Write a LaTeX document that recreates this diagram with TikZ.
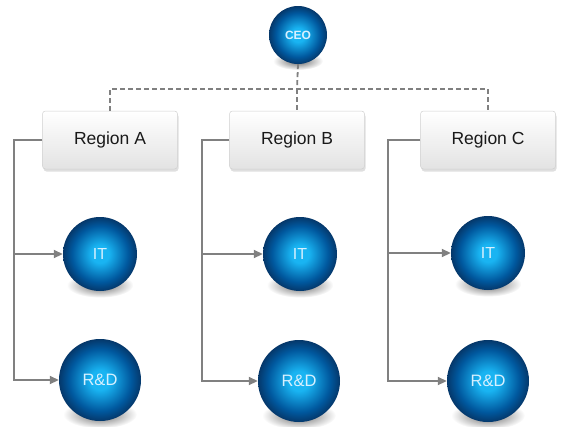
\documentclass[tikz,border=0pt]{standalone}
\usepackage{fontspec}
\setmainfont{Liberation Sans}
\usetikzlibrary{arrows.meta,shadows}

\definecolor{orbcore}{RGB}{25,180,242}
\definecolor{orbmid}{RGB}{0,88,158}
\definecolor{orbedge}{RGB}{8,34,72}
\definecolor{orbtext}{RGB}{215,240,255}
\definecolor{linegray}{RGB}{128,128,128}
\definecolor{boxtext}{RGB}{25,25,25}

% glossy blue sphere (the circle rim sits near 35bp)
\pgfdeclareradialshading{orb}{\pgfpoint{0bp}{0bp}}{%
  color(0bp)=(orbcore);
  color(6bp)=(orbcore);
  color(19bp)=(orbmid);
  color(29bp)=(orbedge);
  color(50bp)=(orbedge)}

\begin{document}
\begin{tikzpicture}[x=1pt,y=-1pt,
  orbnode/.style={circle, inner sep=0pt, shading=orb, text=orbtext},
  itorb/.style={orbnode, minimum size=74pt, font=\fontsize{16}{16}\selectfont},
  rdorb/.style={orbnode, minimum size=82pt, font=\fontsize{16.5}{16.5}\selectfont},
  regionbox/.style={rectangle, rounded corners=3pt, minimum width=135pt,
    minimum height=58pt, top color=white, bottom color=black!11,
    draw=black!18, line width=0.5pt, text=boxtext,
    font=\fontsize{17.5}{17.5}\selectfont,
    drop shadow={opacity=0.25, shadow xshift=1pt, shadow yshift=-2.5pt}},
  conn/.style={draw=linegray, line width=1.8pt},
  arrowconn/.style={conn, -{Triangle[length=9pt,width=8pt]}},
  dashconn/.style={draw=linegray, line width=1.8pt, dash pattern=on 5pt off 3pt},
  orbshadow/.style={inner color=black!60, outer color=white}]

\useasboundingbox (0,0) rectangle (561,426);

% soft shadows beneath the spheres
\shade[orbshadow] (298,61) ellipse (25pt and 9pt);
\foreach \cx/\cy/\r in {100/254/37, 300/254/37, 488/253/37,
                        100/380/41, 299/381/41, 488/381/41}
  \shade[orbshadow] (\cx,\cy+0.84*\r) ellipse ({0.9*\r} and {0.34*\r});

% top level
\node[orbnode, minimum size=58pt, font=\bfseries\fontsize{12}{12}\selectfont]
  (ceo) at (298,35) {CEO};

% regions
\node[regionbox] (rA) at (110,140) {Region A};
\node[regionbox] (rB) at (297,140) {Region B};
\node[regionbox] (rC) at (488,140) {Region C};

% departments
\node[itorb] (itA) at (100,254) {IT};
\node[itorb] (itB) at (300,254) {IT};
\node[itorb] (itC) at (488,253) {IT};
\node[rdorb] (rdA) at (100,380) {R\&D};
\node[rdorb] (rdB) at (299,381) {R\&D};
\node[rdorb] (rdC) at (488,381) {R\&D};

% dashed reporting lines
\coordinate (hub) at (297,89);
\draw[dashconn] (ceo.south) -- (hub);
\draw[dashconn] (rA.north) |- (hub) -| (rC.north);
\draw[dashconn] (hub) -- (rB.north);

% region buses
\coordinate (busA) at (14,140);
\coordinate (busB) at (202,140);
\coordinate (busC) at (388,140);

\draw[arrowconn] (rA.west) -- (busA) |- (rdA.west);
\draw[arrowconn] (busA |- itA.west) -- (itA.west);
\draw[arrowconn] (rB.west) -- (busB) |- (rdB.west);
\draw[arrowconn] (busB |- itB.west) -- (itB.west);
\draw[arrowconn] (rC.west) -- (busC) |- (rdC.west);
\draw[arrowconn] (busC |- itC.west) -- (itC.west);
\end{tikzpicture}
\end{document}
